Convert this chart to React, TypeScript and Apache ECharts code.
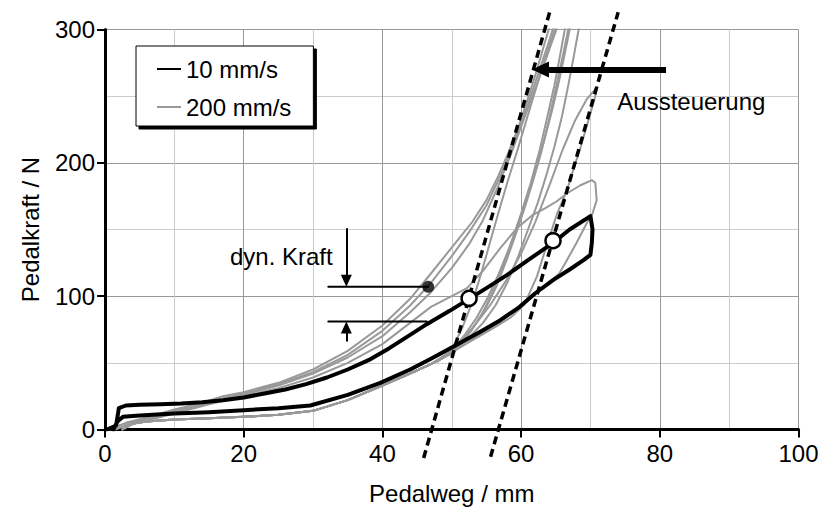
import { useEffect, useRef } from "react";
import * as echarts from "echarts";

type Pt = [number, number];

const FONT = "'Liberation Sans', Arial, Helvetica, sans-serif";

// Axis settings / tick values
const xTicks = [0, 20, 40, 60, 80, 100];
const yTicks = [0, 100, 200, 300];
const legendNames = ["10 mm/s", "200 mm/s"];

// 10 mm/s : one hysteresis loop (loading then unloading)
const slowLoop: Pt[] = [
  [0.3, 0], [1.6, 3], [2, 16], [3, 18], [5, 18.5], [8, 19], [11, 19.5], [14, 20.5],
  [17, 22], [20, 24], [23, 27], [26, 30], [29, 34], [32, 39], [35, 45], [38, 52],
  [41, 61], [44, 71], [46.4, 79], [49.7, 89], [52.5, 98], [55, 106], [58, 116],
  [61, 127], [64.6, 140], [67, 150], [70, 160],
  [70.3, 150], [70.2, 140], [70, 131], [69, 127], [67, 120], [64.6, 112], [62, 102],
  [59.8, 92], [57, 82], [54, 73], [50.2, 62], [47, 53], [44, 45], [39.7, 35],
  [35, 26], [29.6, 18], [25, 16], [20, 14.5], [15, 13], [10, 12], [5, 10.5],
  [2.6, 9.5], [1.8, 6], [1.2, 0],
];

// 200 mm/s : common unloading tail back to zero
const fastTail: Pt[] = [
  [47, 49], [44, 42], [40, 33], [35, 22], [30, 14], [25, 11], [20, 9.5], [15, 8.5],
  [10, 7.5], [6, 6], [4, 4.5], [3, 1.5], [2.5, 0],
];

const fastLoopA: Pt[] = [
  [0.3, 0], [2, 3], [4, 6], [7, 10], [10, 14], [14, 20], [17, 25], [20, 28], [25, 35],
  [30, 45], [35, 59], [40, 78], [44, 98], [47, 117], [49, 130], [51, 143], [53, 156],
  [55, 172], [56.7, 190], [58.2, 208], [59.7, 228], [61.1, 250], [62.3, 270],
  [63.3, 288], [64.1, 302], [64.6, 318],
  [66.8, 318], [66.3, 300], [65.6, 280], [64.8, 258], [63.8, 235], [62.7, 210],
  [61.4, 185], [60, 162], [58.6, 140], [57.2, 120], [55.8, 102], [54.3, 86],
  [52.8, 74], [51.3, 64], [50, 57],
];

const fastLoopB: Pt[] = [
  [0.8, 0], [3, 5], [6, 9], [10, 15], [15, 21], [20, 27], [25, 34], [30, 43], [35, 56],
  [40, 74], [44, 93], [47, 110], [50, 130], [52.5, 148], [55, 168], [57, 190],
  [59, 215], [61, 244], [62.8, 272], [64.2, 294], [65, 308], [65.6, 318],
  [67.6, 318], [67, 300], [66.3, 282], [65.5, 262], [64.5, 240], [63.4, 218],
  [62.2, 196], [61, 176], [59.6, 155], [58.2, 135], [56.8, 117], [55.2, 99],
  [53.6, 84], [52, 72], [50.5, 62], [49, 55],
];

const fastLoopC: Pt[] = [
  [1.5, 0], [3.5, 4], [6, 8], [10, 13], [15, 20], [20, 26], [25, 33], [30, 42], [35, 54],
  [40, 70], [44, 88], [47, 103], [50, 121], [52.5, 139], [54.5, 157], [56.5, 180],
  [58.5, 206], [60.5, 234], [62.5, 262], [64.2, 287], [65.5, 306], [66.2, 318],
  [68.8, 318], [68.3, 300], [67.6, 280], [66.8, 258], [65.9, 235], [64.8, 212],
  [63.6, 190], [62.4, 170], [61, 150], [59.6, 130], [58, 110], [56.3, 93],
  [54.5, 80], [52.5, 69], [50.5, 60], [48.5, 53],
];

const fastLoopD: Pt[] = [
  [2.5, 0], [4, 4], [7, 8], [10, 12], [15, 19], [20, 25], [25, 31], [30, 39], [35, 50],
  [40, 64], [44, 80], [47, 92], [50, 100], [52.2, 106], [54.5, 119], [57, 136],
  [59.4, 151], [61.7, 161], [63.5, 166], [65.1, 171], [66.6, 177], [68.5, 183],
  [70.2, 187], [70.7, 185], [70.9, 172], [70.3, 162], [69.5, 155], [68, 140],
  [66.5, 126], [65.5, 117], [63, 106], [60, 93], [57, 81], [54, 71], [51, 61],
  [48.5, 53],
];

const fastLoopE: Pt[] = [
  [48, 51], [50.5, 62], [53, 76], [55.5, 93], [58, 113], [60, 132], [62, 155],
  [64, 182], [66, 210], [67.8, 232], [69.5, 248], [71, 257], [70.6, 248],
  [69.6, 230], [68.6, 212], [67.6, 196], [66.6, 179], [65.2, 162], [63.8, 140],
  [62.3, 115], [60.5, 94], [58.5, 84], [56, 76], [53, 67], [50, 58],
];

const fastLoopF: Pt[] = [
  [48.5, 53], [50, 60], [51.5, 76], [53, 96], [54.3, 118], [55.5, 140], [56.7, 162],
  [58, 185], [59.5, 210], [61, 236], [62.5, 262], [64, 287], [65.3, 307], [66, 318],
  [67.3, 318], [66.8, 300], [66, 280], [65.1, 258], [64, 232], [62.9, 208],
  [61.7, 186], [60.5, 166], [59.2, 146], [57.9, 127], [56.5, 108], [55, 92],
  [53.4, 79], [51.8, 68], [50.2, 60],
];

const fastLoops: Pt[][] = [fastLoopA, fastLoopB, fastLoopC, fastLoopD, fastLoopE, fastLoopF];

// Annotations (data coordinates)
const dashedLeft: Pt[] = [[45.95, -21.4], [64.2, 314.6]];
const dashedRight: Pt[] = [[55.6, -20.4], [74.0, 313]];
const dynUpperLine: Pt[] = [[32.2, 107], [46.6, 107]];
const dynLowerLine: Pt[] = [[32.2, 81], [46.4, 81]];
const dynDownArrow: Pt[] = [[34.8, 151], [34.8, 111.5]];
const dynUpArrow: Pt[] = [[34.8, 66], [34.8, 76.5]];
const ausArrow: Pt[] = [[80.9, 270], [62.8, 270]];
const filledDot: Pt[] = [[46.6, 107]];
const openCircles: Pt[] = [[52.5, 98.4], [64.6, 141.6]];
const labelAus: Pt = [73.8, 246];
const labelDyn: Pt = [32.9, 129.4];

const lineSeries = (name: string | undefined, data: Pt[], color: string, width: number, extra: any = {}) => ({
  type: "line",
  name,
  data,
  symbol: "none",
  showSymbol: false,
  silent: true,
  lineStyle: { color, width, join: "round", cap: "round" },
  itemStyle: { color },
  ...extra,
});

export default function App() {
  const ref = useRef<HTMLDivElement>(null);

  useEffect(() => {
    if (!ref.current) return;
    const chart = echarts.init(ref.current, undefined, { renderer: "svg" });

    const arrowLine = (pts: Pt[], width: number, size: number[]) => [
      { coord: pts[0], symbol: "none", lineStyle: { color: "#000", width, type: "solid" } },
      { coord: pts[1], symbol: "triangle", symbolSize: size },
    ];

    const textLabel = (formatter: string, position: string) => ({
      show: true,
      formatter,
      position,
      distance: 0,
      color: "#000",
      opacity: 1,
      fontSize: 24,
      fontFamily: FONT,
      textBorderWidth: 0,
    });

    const dashStyle = { color: "#000", width: 3.5, type: [8, 5] };

    const series: any[] = [
      ...fastLoops.map((l) => lineSeries(legendNames[1], l.concat(fastTail), "#999", 2)),
      lineSeries(legendNames[0], slowLoop, "#000", 4),
      lineSeries("dashL", dashedLeft, "#000", 3.5, { clip: false, z: 5, lineStyle: dashStyle }),
      lineSeries("dashR", dashedRight, "#000", 3.5, { clip: false, z: 5, lineStyle: dashStyle }),
      lineSeries("dynU", dynUpperLine, "#000", 2, { z: 6 }),
      lineSeries("dynL", dynLowerLine, "#000", 2, { z: 6 }),
      {
        type: "line",
        name: "arrows",
        data: [],
        z: 7,
        markLine: {
          silent: true,
          animation: false,
          label: { show: false },
          lineStyle: { color: "#000", type: "solid", width: 2 },
          data: [
            arrowLine(ausArrow, 6, [16, 17]),
            arrowLine(dynDownArrow, 2, [11, 12]),
            arrowLine(dynUpArrow, 2, [11, 12]),
          ],
        },
      },
      {
        type: "scatter",
        name: "dot",
        data: filledDot,
        symbol: "circle",
        symbolSize: 12,
        silent: true,
        z: 8,
        itemStyle: { color: "#000" },
      },
      {
        type: "scatter",
        name: "circles",
        data: openCircles,
        symbol: "circle",
        symbolSize: 15,
        silent: true,
        z: 8,
        itemStyle: { color: "#fff", borderColor: "#000", borderWidth: 2.5, opacity: 1 },
      },
      {
        type: "scatter",
        name: "texts",
        symbolSize: 1,
        silent: true,
        z: 9,
        itemStyle: { color: "rgba(0,0,0,0)" },
        data: [
          { value: labelAus, label: textLabel("Aussteuerung", "right") },
          { value: labelDyn, label: textLabel("dyn. Kraft", "left") },
        ],
      },
    ];

    chart.setOption({
      animation: false,
      backgroundColor: "#fff",
      textStyle: { fontFamily: FONT, color: "#000" },
      grid: { left: 105, right: 25.5, top: 29.5, bottom: 82.5, containLabel: false },
      legend: {
        data: legendNames,
        orient: "vertical",
        left: 136,
        top: 46,
        padding: [11, 22, 7, 21],
        itemGap: 14,
        itemWidth: 24,
        itemHeight: 2,
        icon: "rect",
        selectedMode: false,
        backgroundColor: "#fff",
        borderColor: "#000",
        borderWidth: 1,
        shadowColor: "#000",
        shadowBlur: 0,
        shadowOffsetX: 3,
        shadowOffsetY: 3,
        textStyle: { color: "#000", fontSize: 24, fontFamily: FONT },
      },
      xAxis: {
        type: "value",
        min: xTicks[0],
        max: xTicks[xTicks.length - 1],
        interval: xTicks[1] - xTicks[0],
        name: "Pedalweg / mm",
        nameLocation: "middle",
        nameGap: 52,
        nameTextStyle: { color: "#000", fontSize: 24, fontFamily: FONT },
        axisLine: { show: true, onZero: false, lineStyle: { color: "#000", width: 3 } },
        axisTick: { show: true, length: 8, lineStyle: { color: "#000", width: 2 } },
        axisLabel: { color: "#000", fontSize: 24, margin: 12, fontFamily: FONT },
        splitLine: { show: true, lineStyle: { color: "#999", width: 1 } },
        minorTick: { show: false, splitNumber: 2 },
        minorSplitLine: { show: true, lineStyle: { color: "#ccc", width: 1 } },
      },
      yAxis: {
        type: "value",
        min: yTicks[0],
        max: yTicks[yTicks.length - 1],
        interval: yTicks[1] - yTicks[0],
        name: "Pedalkraft / N",
        nameLocation: "middle",
        nameGap: 63,
        nameTextStyle: { color: "#000", fontSize: 24, fontFamily: FONT },
        axisLine: { show: true, onZero: false, lineStyle: { color: "#000", width: 3 } },
        axisTick: { show: true, length: 8, lineStyle: { color: "#000", width: 2 } },
        axisLabel: { color: "#000", fontSize: 24, margin: 10, fontFamily: FONT },
        splitLine: { show: true, lineStyle: { color: "#999", width: 1 } },
        minorTick: { show: false, splitNumber: 2 },
        minorSplitLine: { show: true, lineStyle: { color: "#ccc", width: 1 } },
      },
      series,
    });

    return () => chart.dispose();
  }, []);

  return (
    <div
      ref={ref}
      style={{ position: "absolute", left: 0, top: 0, width: 824, height: 512, background: "#fff" }}
    />
  );
}
